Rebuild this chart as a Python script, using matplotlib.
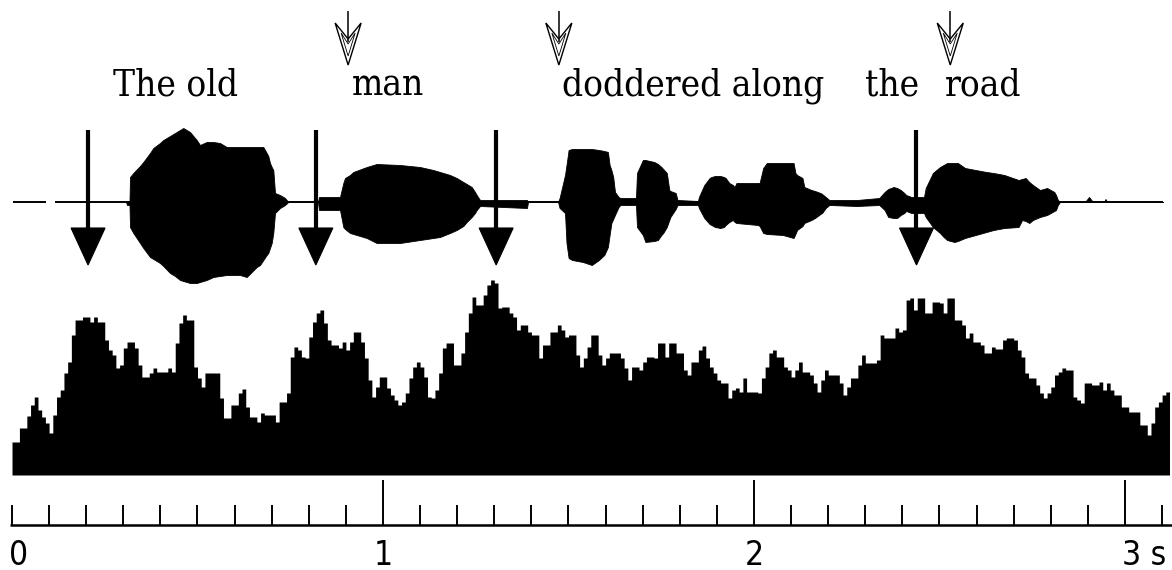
import matplotlib
matplotlib.use("Agg")
import matplotlib.pyplot as plt
import numpy as np
from matplotlib.patches import Polygon

# ---------------- data ----------------
word_labels = ["The old", "man", "doddered along", "the", "road"]
word_times = [0.272, 0.916, 1.482, 2.299, 2.515]          # left edge of each word (s)

boundary_times = [0.205, 0.819, 1.305, 2.438]             # big filled arrows (s)
stress_times = [0.906, 1.474, 2.529]                      # small hollow arrows (s)

# waveform envelope: time (s), amplitude above / below the zero line (arbitrary units)
wave_t = [0.3073, 0.3100, 0.3167, 0.3181, 0.3270, 0.3450, 0.3539, 0.3720, 0.3809, 0.3989,
          0.4078, 0.4259, 0.4394, 0.4528, 0.4617, 0.4798, 0.4978, 0.5067, 0.5248, 0.5426,
          0.5606, 0.5787, 0.6146, 0.6326, 0.6596, 0.6685, 0.6774, 0.6865, 0.6908, 0.6954,
          0.7000, 0.7043, 0.7089, 0.7224, 0.7358, 0.7447,
          0.8248, 0.8275, 0.8841, 0.8930, 0.8976, 0.9111, 0.9199, 0.9561, 0.9830, 1.0458,
          1.0997, 1.1356, 1.1536, 1.1806, 1.1987, 1.2164, 1.2256, 1.2391, 1.2480, 1.2526,
          1.2615, 1.3881, 1.3908,
          1.4717, 1.4760, 1.4906, 1.4946, 1.5003, 1.5097, 1.5388, 1.5628, 1.5819, 1.5965,
          1.6062, 1.6108, 1.6156, 1.6205, 1.6253, 1.6350, 1.6399, 1.6819, 1.6846, 1.7005,
          1.7073, 1.7313, 1.7410, 1.7504, 1.7553, 1.7650, 1.7717, 1.7747, 1.7889, 1.7938,
          1.8491, 1.8515, 1.8660, 1.8803, 1.8852, 1.8949, 1.9094, 1.9189, 1.9237, 1.9334,
          1.9431, 1.9477, 1.9526, 2.0105, 2.0151, 2.0248, 2.0345, 2.0779, 2.1067, 2.1116,
          2.1162, 2.1307, 2.1356, 2.1547, 2.1644, 2.1790, 2.1836, 2.1933, 2.2030,
          2.2776,
          2.3377, 2.3520, 2.3617, 2.3763, 2.3857, 2.3954, 2.4051, 2.4100, 2.4243,
          2.4582, 2.4628, 2.4822, 2.5013, 2.5111, 2.5205, 2.5399, 2.5496, 2.5687, 2.5976,
          2.6264, 2.6458, 2.6747, 2.7132, 2.7226, 2.7323, 2.7420, 2.7518, 2.7709, 2.7900,
          2.7997, 2.8094, 2.8140, 2.8191, 2.8248,
          2.8922, 2.9030, 2.9137, 2.9434, 2.9474, 2.9515, 3.1024]
wave_top = [0, 1, 1, 25, 29, 36, 40, 49, 54, 59,
            62, 66, 69, 72, 74, 70, 62, 57, 60, 60,
            59, 55, 55, 55, 55, 55, 55, 49, 46, 39,
            35, 32, 9, 7, 4, 0,
            0, 5, 5, 19, 24, 27, 30, 35, 38, 37,
            35, 32, 30, 27, 24, 20, 18, 15, 10, 7,
            2, 2, 0,
            0, 4, 27, 37, 52, 53, 53, 53, 52, 51,
            50, 37, 32, 25, 10, 5, 4, 4, 29, 42,
            42, 40, 38, 35, 33, 29, 12, 11, 9, 2,
            1, 5, 17, 24, 25, 26, 26, 25, 24, 19,
            17, 15, 19, 19, 19, 34, 39, 39, 39, 29,
            27, 24, 15, 12, 11, 9, 8, 5, 2,
            2,
            4, 10, 13, 15, 14, 12, 9, 7, 5,
            5, 14, 29, 35, 37, 39, 39, 39, 34, 32,
            30, 29, 27, 22, 23, 24, 20, 17, 12, 14,
            12, 10, 7, 2, 0,
            0, 5, 0, 0, 3, 0, 0]
wave_bot = [0, 3, 3, 25, 31, 41, 46, 55, 57, 61,
            64, 71, 74, 78, 79, 81, 81, 80, 78, 75,
            74, 73, 73, 75, 65, 63, 58, 53, 51, 46,
            41, 31, 11, 6, 3, 0,
            0, 8, 8, 25, 27, 31, 32, 36, 41, 41,
            38, 36, 35, 31, 28, 24, 20, 15, 11, 8,
            4, 6, 0,
            0, 6, 11, 41, 56, 58, 60, 63, 58, 53,
            45, 33, 21, 17, 13, 5, 3, 3, 25, 33,
            40, 39, 38, 33, 31, 25, 18, 15, 7, 3,
            3, 6, 16, 22, 23, 25, 26, 25, 23, 20,
            18, 20, 21, 23, 24, 31, 32, 33, 36, 32,
            28, 24, 21, 18, 16, 12, 11, 6, 3,
            4,
            3, 8, 15, 16, 16, 13, 11, 9, 11,
            11, 15, 25, 31, 35, 38, 40, 39, 36, 33,
            30, 28, 26, 25, 18, 19, 21, 18, 15, 13,
            11, 9, 8, 3, 0,
            0, 0, 0, 0, 0, 0, 0]
wave_line_start = [0.003, 0.116]
wave_line_end = [0.092, 3.102]

# lower trace: one value every 10 ms (arbitrary units)
loud_step = 0.01
loud = [33, 33, 47, 47, 59, 70, 78, 65, 58, 52, 42, 60, 78, 85, 102, 113, 140, 155, 155, 158,
        158, 153, 158, 153, 153, 135, 125, 120, 107, 110, 127, 133, 133, 127, 110, 98, 98, 102, 107, 103,
        103, 103, 107, 103, 132, 152, 160, 155, 155, 108, 97, 88, 102, 102, 102, 102, 77, 57, 57, 70,
        70, 82, 86, 68, 58, 58, 53, 62, 60, 60, 60, 53, 73, 73, 82, 118, 128, 125, 118, 117,
        138, 153, 162, 165, 152, 135, 130, 130, 127, 133, 125, 133, 143, 143, 133, 117, 95, 78, 88, 98,
        98, 87, 80, 75, 70, 73, 82, 97, 108, 113, 108, 98, 78, 77, 85, 102, 127, 132, 132, 110,
        110, 122, 143, 162, 178, 170, 170, 180, 190, 195, 192, 167, 168, 168, 162, 158, 145, 150, 150, 143,
        140, 140, 117, 130, 130, 143, 143, 150, 145, 138, 140, 140, 120, 108, 117, 128, 140, 140, 120, 110,
        117, 122, 122, 122, 117, 107, 95, 108, 108, 105, 113, 118, 118, 117, 132, 132, 118, 132, 132, 122,
        122, 105, 100, 113, 113, 125, 129, 117, 108, 102, 95, 92, 92, 77, 85, 87, 83, 97, 83, 83,
        83, 82, 97, 108, 122, 125, 118, 118, 108, 105, 98, 105, 113, 103, 103, 100, 92, 83, 95, 105,
        100, 100, 100, 92, 80, 88, 97, 97, 110, 120, 112, 112, 112, 115, 140, 137, 137, 137, 147, 143,
        145, 175, 177, 165, 177, 177, 162, 162, 173, 173, 172, 162, 177, 177, 155, 155, 150, 137, 142, 133,
        133, 130, 122, 122, 128, 126, 126, 135, 137, 137, 135, 125, 118, 102, 97, 97, 90, 82, 77, 82,
        88, 100, 103, 107, 105, 105, 78, 75, 72, 92, 92, 90, 90, 93, 85, 92, 85, 80, 80, 68,
        68, 63, 63, 63, 50, 50, 40, 52, 68, 73, 80, 83]

ruler_minor = [round(0.1 * i, 1) for i in range(32)]     # 0 .. 3.1 s
ruler_major = [1, 2, 3]
ruler_label_values = [0, 1, 2, 3]
ruler_label_text = ["0", "1", "2", "3 s"]

assert len(wave_t) == len(wave_top) == len(wave_bot)

# ---------------- layout (figure pixel frame, y down) ----------------
W, H = 1172, 570
X0_PX, PX_PER_S = 12, 371.0
PX = 1.0 / PX_PER_S                 # one pixel in seconds

WAVE_Y = 202
LOUD_BASE = 475
RULER_Y = 525

fig = plt.figure(figsize=(W / 100, H / 100), dpi=100)
ax = fig.add_axes([0, 0, 1, 1])
ax.set_xlim(-X0_PX * PX, (W - X0_PX) * PX)
ax.set_ylim(H, 0)
ax.axis("off")

# waveform
for a, b in zip(wave_line_start, wave_line_end):
    ax.plot([a, b], [WAVE_Y, WAVE_Y], color="black", lw=1.4, solid_capstyle="butt")
wt = np.array(wave_t)
ax.fill_between(wt, WAVE_Y - np.array(wave_top), WAVE_Y + np.array(wave_bot),
                color="black", lw=0.6, edgecolor="black")

# lower trace (stepped)
lt = np.arange(len(loud) + 1) * loud_step
lv = np.append(loud, loud[-1])
ax.fill_between(lt, LOUD_BASE, LOUD_BASE - lv, step="post", color="black", lw=0)

# big filled arrows (boundaries)
for t in boundary_times:
    ax.plot([t, t], [130, 232], color="black", lw=3.0, solid_capstyle="butt")
    ax.add_patch(Polygon([(t - 17 * PX, 228), (t + 17 * PX, 228), (t, 265)],
                         closed=True, facecolor="black", edgecolor="black", lw=0.8))

# small hollow arrows (stress)
for t in stress_times:
    ax.add_patch(Polygon([(t - 13 * PX, 23), (t, 65), (t + 13 * PX, 23), (t, 39)],
                         closed=True, facecolor="white", edgecolor="black", lw=1.0))
    ax.add_patch(Polygon([(t - 7 * PX, 33), (t, 56), (t + 7 * PX, 33), (t, 44)],
                         closed=True, facecolor="none", edgecolor="black", lw=0.6))
    ax.plot([t, t], [11, 42], color="black", lw=1.1, solid_capstyle="butt")

# words
for t, w in zip(word_times, word_labels):
    ax.text(t, 96, w, ha="left", va="baseline", fontsize=26.5, fontstretch="condensed",
            family=["DejaVu Serif"], color="black")

# ruler
ax.plot([-2 * PX, (W - X0_PX) * PX], [RULER_Y, RULER_Y], color="black", lw=1.8,
        solid_capstyle="butt")
for t in ruler_minor:
    top = 480 if any(abs(t - m) < 1e-6 for m in ruler_major) else 505
    ax.plot([t, t], [RULER_Y, top], color="black", lw=1.4, solid_capstyle="butt")
for v, s in zip(ruler_label_values, ruler_label_text):
    ha = "center" if s in ("1", "2") else "left"
    xoff = -3 * PX if ha == "left" else 0
    ax.text(v + xoff, 565, s, ha=ha, va="baseline", fontsize=24, fontstretch="condensed",
            family=["DejaVu Sans"], color="black")

fig.savefig("out.png", dpi=100, facecolor="white")
